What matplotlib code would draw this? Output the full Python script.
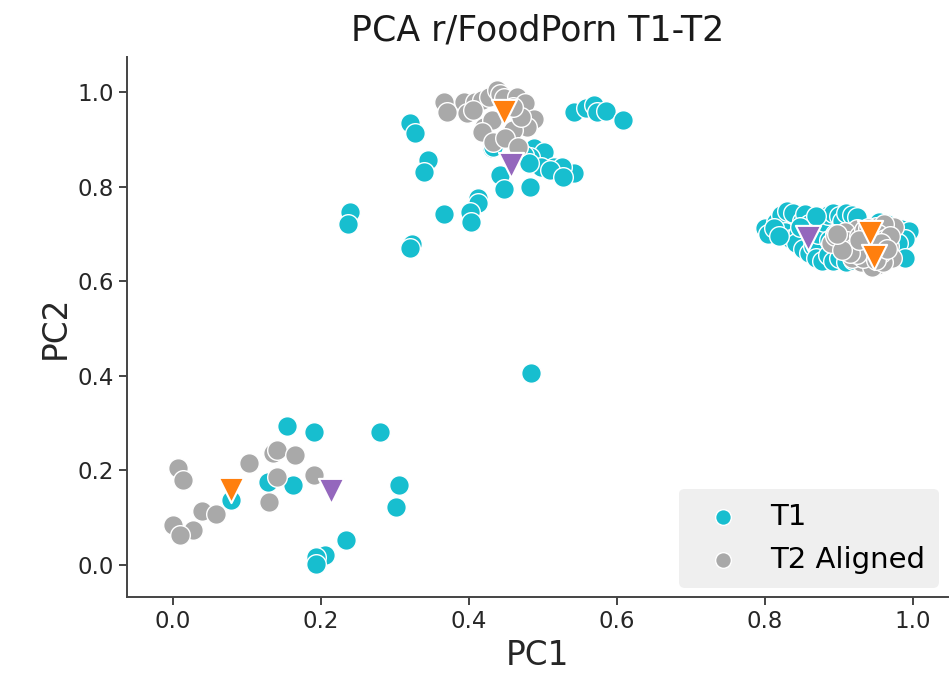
import numpy as np
import matplotlib
matplotlib.use("Agg")
from matplotlib import pyplot as plt

# T1 points (cyan)
t1_x = [0.154, 0.190, 0.280, 0.129, 0.162, 0.305, 0.302, 0.234, 0.206, 0.194, 0.194, 0.078,
        0.321, 0.327, 0.345, 0.339, 0.542, 0.558, 0.569, 0.573, 0.585, 0.609, 0.488, 0.501,
        0.431, 0.483, 0.515, 0.533, 0.542, 0.526, 0.442, 0.448, 0.483, 0.413, 0.413, 0.239,
        0.237, 0.366, 0.401, 0.403, 0.323, 0.320, 0.474, 0.497, 0.481, 0.510, 0.528, 0.433,
        0.484,
        0.800, 0.805, 0.815, 0.822, 0.830, 0.838, 0.828, 0.835, 0.845, 0.850, 0.855, 0.842,
        0.852, 0.860, 0.866, 0.870, 0.878, 0.885, 0.872, 0.880, 0.885, 0.893, 0.900, 0.905,
        0.910, 0.918, 0.925, 0.893, 0.900, 0.910, 0.920, 0.935, 0.945, 0.958, 0.968, 0.975,
        0.985, 0.995, 0.990, 0.980, 0.990, 0.965, 0.955, 0.860, 0.870, 0.848, 0.813, 0.820,
        0.887, 0.895]
t1_y = [0.294, 0.282, 0.282, 0.176, 0.169, 0.169, 0.122, 0.053, 0.021, 0.017, 0.002, 0.137,
        0.934, 0.913, 0.856, 0.832, 0.958, 0.966, 0.973, 0.958, 0.961, 0.942, 0.881, 0.874,
        0.881, 0.863, 0.842, 0.828, 0.828, 0.842, 0.825, 0.796, 0.800, 0.775, 0.766, 0.747,
        0.722, 0.742, 0.747, 0.726, 0.678, 0.670, 0.867, 0.842, 0.849, 0.835, 0.821, 0.884,
        0.406,
        0.712, 0.700, 0.725, 0.740, 0.748, 0.745, 0.705, 0.690, 0.700, 0.728, 0.742, 0.680,
        0.668, 0.660, 0.675, 0.650, 0.643, 0.655, 0.700, 0.725, 0.740, 0.745, 0.738, 0.728,
        0.745, 0.740, 0.735, 0.642, 0.650, 0.640, 0.645, 0.640, 0.642, 0.650, 0.660, 0.700,
        0.710, 0.706, 0.690, 0.680, 0.650, 0.720, 0.725, 0.720, 0.738, 0.715, 0.713, 0.695,
        0.688, 0.700]

# T2 aligned points (grey)
t2_x = [0.007, 0.013, 0.103, 0.135, 0.140, 0.165, 0.140, 0.191, 0.130, 0.039, 0.058, 0.000,
        0.027, 0.010,
        0.366, 0.370, 0.393, 0.409, 0.418, 0.427, 0.438, 0.442, 0.447, 0.465, 0.476, 0.488,
        0.479, 0.460, 0.420, 0.431, 0.397, 0.406, 0.418, 0.433, 0.449, 0.467, 0.470, 0.460,
        0.900, 0.905, 0.910, 0.915, 0.920, 0.925, 0.930, 0.935, 0.940, 0.940, 0.945, 0.950,
        0.952, 0.955, 0.960, 0.965, 0.968, 0.972, 0.975, 0.930, 0.918, 0.908, 0.945, 0.960,
        0.962, 0.890, 0.895, 0.912, 0.922, 0.928, 0.933, 0.938, 0.948, 0.953, 0.958, 0.963,
        0.970, 0.925, 0.915, 0.935, 0.943, 0.950, 0.905, 0.898, 0.957, 0.966, 0.940, 0.928]
t2_y = [0.204, 0.180, 0.216, 0.236, 0.243, 0.233, 0.185, 0.190, 0.132, 0.114, 0.107, 0.085,
        0.073, 0.063,
        0.979, 0.958, 0.979, 0.979, 0.983, 0.990, 1.004, 0.997, 0.987, 0.990, 0.976, 0.944,
        0.927, 0.920, 0.927, 0.941, 0.955, 0.962, 0.916, 0.895, 0.902, 0.884, 0.948, 0.969,
        0.690, 0.675, 0.700, 0.665, 0.690, 0.710, 0.680, 0.660, 0.700, 0.645, 0.680, 0.715,
        0.635, 0.665, 0.690, 0.705, 0.675, 0.650, 0.715, 0.640, 0.650, 0.705, 0.630, 0.640,
        0.720, 0.680, 0.695, 0.685, 0.672, 0.695, 0.650, 0.670, 0.655, 0.700, 0.660, 0.690,
        0.695, 0.658, 0.660, 0.708, 0.690, 0.645, 0.665, 0.700, 0.680, 0.668, 0.712, 0.688]

# cluster centres (triangles)
orange_x = [0.078, 0.448, 0.943, 0.948]
orange_y = [0.159, 0.958, 0.701, 0.652]
purple_x = [0.214, 0.457, 0.858]
purple_y = [0.157, 0.846, 0.691]

fig = plt.figure(figsize=(9.49, 6.8), dpi=100)
ax = fig.add_axes([0.134, 0.122, 0.865, 0.794])

ax.scatter(t1_x, t1_y, s=200, c="#17becf", edgecolors="white", linewidths=1, label="T1", zorder=2)
ax.scatter(t2_x, t2_y, s=200, c="#a9a9a9", edgecolors="white", linewidths=1, label="T2 Aligned", zorder=3)
ax.scatter(orange_x, orange_y, s=330, marker="v", c="#ff7f0e", edgecolors="white", linewidths=1.5, zorder=4)
ax.scatter(purple_x, purple_y, s=330, marker="v", c="#9467bd", edgecolors="white", linewidths=1.5, zorder=4)

ax.set_xlim(-0.062, 1.048)
ax.set_ylim(-0.068, 1.074)
ax.set_xticks([0.0, 0.2, 0.4, 0.6, 0.8, 1.0])
ax.set_yticks([0.0, 0.2, 0.4, 0.6, 0.8, 1.0])

ax.spines["top"].set_visible(False)
ax.spines["right"].set_visible(False)
for sp in ["left", "bottom"]:
    ax.spines[sp].set_linewidth(1.4)
    ax.spines[sp].set_color("#444444")
ax.tick_params(labelsize=16.5, length=6, width=1.4, color="#444444", labelcolor="#262626")

ax.set_xlabel("PC1", fontsize=23.5, color="#262626")
ax.set_ylabel("PC2", fontsize=23.5, color="#262626")
ax.set_title("PCA r/FoodPorn T1-T2", fontsize=25, color="#1a1a1a", pad=12)

leg = ax.legend(loc="lower right", fontsize=21, frameon=True, facecolor="#efefef",
                edgecolor="none", framealpha=1, markerscale=0.8, handletextpad=0.6,
                borderaxespad=0.3, borderpad=0.5)

plt.savefig("out.png", dpi=100)
